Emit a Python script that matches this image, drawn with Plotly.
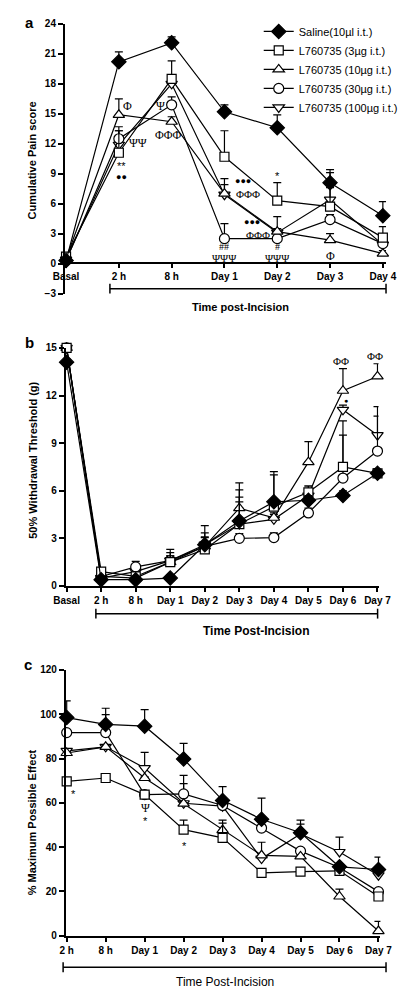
import plotly.graph_objects as go

W, H = 406, 990

# ---------------- data ----------------
cats_a = ["Basal", "2 h", "8 h", "Day 1", "Day 2", "Day 3", "Day 4"]
saline_a = [0.3, 20.2, 22.1, 15.2, 13.6, 8.1, 4.8]
saline_a_err = [0.3, 1.0, 0.6, 0.7, 1.3, 1.3, 1.4]
l3_a = [0.7, 11.1, 18.5, 10.7, 6.3, 5.7, 2.6]
l3_a_err = [0.4, 2.2, 1.8, 2.6, 1.8, 1.9, 1.1]
l10_a = [0.5, 14.9, 14.2, 7.0, 3.2, 2.35, 1.0]
l10_a_err = [0.5, 1.6, 0.5, 1.5, 0.3, 0.65, 0.3]
l30_a = [0.3, 12.5, 15.9, 2.5, 2.5, 4.4, 2.0]
l30_a_err = [0.3, 1.2, 0.8, 1.5, 0.3, 0.5, 0.3]
l100_a = [0.4, 11.9, 18.0, 6.9, 3.1, 6.4, 1.9]
l100_a_err = [0.4, 1.4, 0.9, 1.0, 1.6, 2.7, 0.8]

cats_b = ["Basal", "2 h", "8 h", "Day 1", "Day 2", "Day 3", "Day 4", "Day 5", "Day 6", "Day 7"]
saline_b = [14.1, 0.4, 0.4, 0.5, 2.6, 4.1, 5.3, 5.4, 5.7, 7.1]
saline_b_err = [0.2, 0.2, 0.2, 0.2, 0.5, 1.95, 1.9, 0.3, 0.3, 0.3]
l3_b = [15.0, 0.9, 0.6, 1.5, 2.3, 3.9, 5.0, 5.9, 7.5, 7.1]
l3_b_err = [0.2, 0.2, 0.2, 0.8, 1.5, 1.7, 2.0, 0.4, 2.0, 0.3]
l10_b = [15.0, 0.6, 0.5, 1.5, 2.5, 4.9, 4.3, 7.8, 12.3, 13.2]
l10_b_err = [0.2, 0.2, 0.2, 0.6, 0.85, 1.6, 0.3, 1.3, 1.4, 0.8]
l30_b = [15.0, 0.6, 1.2, 1.6, 2.5, 3.0, 3.05, 4.6, 6.8, 8.5]
l30_b_err = [0.2, 0.2, 0.35, 0.3, 0.3, 0.3, 0.3, 0.3, 3.6, 2.2]
l100_b = [15.0, 0.5, 0.9, 1.6, 2.6, 3.9, 4.2, 5.7, 11.1, 9.5]
l100_b_err = [0.2, 0.2, 0.2, 0.3, 0.45, 1.4, 0.3, 0.6, 0.3, 1.8]

cats_c = ["2 h", "8 h", "Day 1", "Day 2", "Day 3", "Day 4", "Day 5", "Day 6", "Day 7"]
saline_c = [98.5, 95.4, 94.6, 79.8, 61.1, 52.6, 46.5, 31.1, 29.9]
saline_c_err = [7.5, 7.3, 7.5, 7.0, 6.2, 9.5, 5.7, 0.5, 5.6]
l3_c = [69.7, 71.2, 63.7, 47.9, 44.2, 28.4, 28.9, 29.3, 17.7]
l3_c_err = [0.5, 0.5, 0.5, 4.3, 6.6, 0.5, 0.5, 0.5, 0.5]
l10_c = [82.5, 85.3, 71.2, 59.6, 47.7, 36.3, 35.8, 17.7, 2.1]
l10_c_err = [0.5, 0.5, 0.5, 0.5, 4.5, 5.9, 0.5, 3.3, 4.4]
l30_c = [91.7, 91.7, 63.7, 64.0, 58.8, 48.6, 38.2, 30.8, 19.9]
l30_c_err = [0.5, 8.1, 0.5, 8.4, 0.5, 0.5, 0.5, 0.5, 0.5]
l100_c = [83.5, 85.3, 75.7, 59.8, 58.5, 34.8, 45.9, 37.8, 27.3]
l100_c_err = [0.5, 0.5, 7.1, 8.9, 0.5, 0.5, 4.5, 6.7, 3.5]

names = ["Saline(10µl i.t.)", "L760735 (3µg i.t.)", "L760735 (10µg i.t.)",
         "L760735 (30µg i.t.)", "L760735 (100µg i.t.)"]
symbols = ["diamond", "square", "triangle-up", "circle", "triangle-down"]
fills = ["black", "white", "white", "white", "white"]
sizes = [11, 9, 10, 10, 10]

panels = [
    ("x", "y", cats_a, [saline_a, l3_a, l10_a, l30_a, l100_a],
     [saline_a_err, l3_a_err, l10_a_err, l30_a_err, l100_a_err], True),
    ("x2", "y2", cats_b, [saline_b, l3_b, l10_b, l30_b, l100_b],
     [saline_b_err, l3_b_err, l10_b_err, l30_b_err, l100_b_err], False),
    ("x3", "y3", cats_c, [saline_c, l3_c, l10_c, l30_c, l100_c],
     [saline_c_err, l3_c_err, l10_c_err, l30_c_err, l100_c_err], False),
]

SANS = "Liberation Sans, Arial, sans-serif"
SERIF = "Liberation Serif, Times New Roman, serif"

fig = go.Figure()
for xa, ya, cats, vals, errs, showleg in panels:
    for i in reversed(range(5)):
        fig.add_trace(go.Scatter(
            x=cats, y=vals[i], xaxis=xa, yaxis=ya, name=names[i],
            mode="lines+markers", showlegend=showleg, cliponaxis=False,
            line=dict(color="black", width=1.2),
            marker=dict(symbol=symbols[i], size=sizes[i], color=fills[i],
                        line=dict(color="black", width=1.2)),
            error_y=dict(type="data", symmetric=False, array=errs[i],
                         arrayminus=[0] * len(errs[i]), color="black",
                         thickness=1.2, width=4),
        ))


def py(p):
    return 1 - p / H


def pxx(p):
    return p / W


tickfont = dict(family=SANS, size=10, color="black", weight="bold")
common_x = dict(type="category", showline=True, linewidth=2, linecolor="black",
                ticks="outside", ticklen=4, tickwidth=1.5, tickcolor="black",
                showgrid=False, zeroline=False, tickfont=tickfont)
common_y = dict(showline=True, linewidth=2, linecolor="black", ticks="outside",
                ticklen=5, tickwidth=1.5, tickcolor="black", showgrid=False,
                zeroline=False, tickfont=tickfont)

fig.update_layout(
    width=W, height=H, margin=dict(l=0, r=0, t=0, b=0),
    paper_bgcolor="white", plot_bgcolor="white",
    font=dict(family=SANS, color="black"),
    xaxis=dict(common_x, domain=[pxx(47), pxx(390)], range=[-0.02, 6.06],
               anchor="free", position=py(252)),
    yaxis=dict(common_y, domain=[py(283), py(10)], range=[-3, 24],
               tickvals=[-3, 0, 3, 6, 9, 12, 15, 18, 21, 24], anchor="x"),
    xaxis2=dict(common_x, domain=[pxx(48), pxx(382)], range=[-0.02, 9.03], anchor="y2"),
    yaxis2=dict(common_y, domain=[py(579), py(338)], range=[0, 15],
                tickvals=[0, 3, 6, 9, 12, 15], anchor="x2"),
    xaxis3=dict(common_x, domain=[pxx(48), pxx(384)], range=[-0.02, 8.05], anchor="y3"),
    yaxis3=dict(common_y, domain=[py(933), py(664)], range=[0, 120],
                tickvals=[0, 20, 40, 60, 80, 100, 120], anchor="x3"),
    legend=dict(x=pxx(254), y=py(3), xanchor="left", yanchor="top",
                traceorder="reversed", bgcolor="rgba(0,0,0,0)",
                font=dict(family=SANS, size=11, color="black")),
)

ann = []


def txt(x, y, s, xref="paper", yref="paper", size=11, family=SANS, weight="normal", angle=0):
    ann.append(dict(x=x, y=y, xref=xref, yref=yref, text=s, showarrow=False,
                    textangle=angle, xanchor="center", yanchor="middle",
                    font=dict(family=family, size=size, color="black", weight=weight)))


# panel letters
txt(pxx(9), py(9), "a", size=15, weight="bold")
txt(pxx(9), py(333), "b", size=15, weight="bold")
txt(pxx(8), py(658), "c", size=15, weight="bold")

# axis titles
txt(pxx(12), py(148), "Cumulative Pain score", size=11, weight="bold", angle=-90)
txt(pxx(12), py(452), "50% Withdrawal Threshold (g)", size=11, weight="bold", angle=-90)
txt(pxx(12), py(818), "% Maximum Possible Effect", size=11, weight="bold", angle=-90)
txt(pxx(234), py(297), "Time post-Incision", size=11, weight="bold")
txt(pxx(251), py(625), "Time Post-Incision", size=12, weight="bold")
txt(pxx(218), py(980), "Time Post-Incision", size=12)

# significance marks, panel a
for x, y, s, fam, sz in [
    (1.16, 15.8, "Φ", SERIF, 12), (1.79, 15.8, "Ψ", SERIF, 12),
    (1.94, 12.9, "ΦΦΦ", SERIF, 12), (1.37, 12.1, "ΨΨ", SERIF, 12),
    (1.05, 9.8, "**", SANS, 11), (1.05, 8.7, "●●", SANS, 9),
    (3.35, 8.3, "●●●", SANS, 9), (3.44, 7.0, "ΦΦΦ", SERIF, 11),
    (4.0, 8.8, "*", SANS, 11),
    (3.52, 4.2, "●●●", SANS, 9), (3.63, 2.9, "ΦΦΦ", SERIF, 11),
    (3.0, 1.7, "##", SERIF, 10), (3.0, 0.55, "ΨΨΨ", SERIF, 11),
    (4.0, 1.7, "#", SERIF, 10), (4.0, 0.55, "ΨΨΨ", SERIF, 11),
    (5.0, 0.8, "Φ", SERIF, 12),
]:
    txt(x, y, s, xref="x", yref="y", size=sz, family=fam)

# panel b
for x, y, s, fam, sz in [
    (7.95, 14.2, "ΦΦ", SERIF, 11), (8.92, 14.5, "ΦΦ", SERIF, 11),
    (8.1, 11.7, "●", SANS, 7),
]:
    txt(x, y, s, xref="x2", yref="y2", size=sz, family=fam)

# panel c
for x, y, s, fam, sz in [
    (0.17, 64, "*", SANS, 11), (2.03, 57.5, "Ψ", SERIF, 12),
    (2.03, 52, "*", SANS, 11), (3.02, 40.6, "*", SANS, 11),
]:
    txt(x, y, s, xref="x3", yref="y3", size=sz, family=fam)

fig.update_layout(annotations=ann)

# brackets under the x axes
shapes = []
for x0, x1, yb in [(95, 390, 278), (80, 381, 607), (45, 390, 965)]:
    shapes.append(dict(type="line", xref="paper", yref="paper", x0=pxx(x0), x1=pxx(x1),
                       y0=py(yb), y1=py(yb), line=dict(color="black", width=1.5)))
    for xe in (x0, x1):
        shapes.append(dict(type="line", xref="paper", yref="paper", x0=pxx(xe), x1=pxx(xe),
                           y0=py(yb - 5), y1=py(yb + 5), line=dict(color="black", width=1.5)))
fig.update_layout(shapes=shapes)

fig.write_html("out.html")
